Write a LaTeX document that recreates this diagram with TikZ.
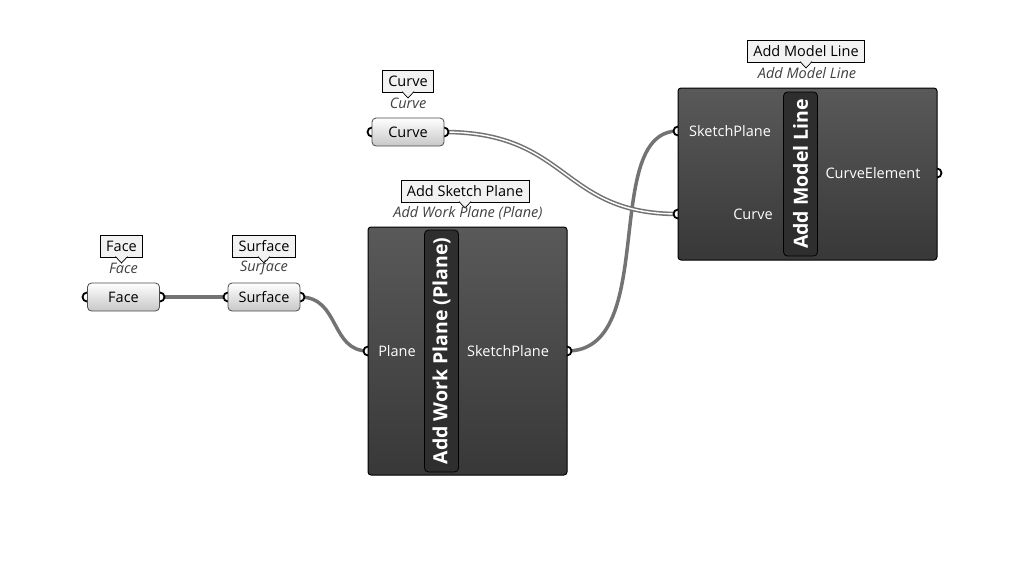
\documentclass[tikz,border=0pt]{standalone}
\usepackage{fontspec}
\setmainfont{Open Sans}
\begin{document}
\begin{tikzpicture}[x=1pt,y=-1pt,
 param/.style={draw=black!70,line width=0.8pt,rounded corners=4pt,top color=white,bottom color=black!22,minimum width=72pt,minimum height=28pt,font=\fontsize{14.5}{16}\selectfont,inner sep=0pt},
 comp/.style={draw=black,line width=1pt,rounded corners=3pt,top color=black!65,bottom color=black!78,inner sep=0pt},
 capsule/.style={draw=black,line width=0.8pt,rounded corners=4pt,fill=black!82,inner sep=0pt,minimum width=34pt,text=white,font=\bfseries\fontsize{19.5}{22}\selectfont},
 tag/.style={draw=black,line width=0.7pt,fill=white!95!black,font=\fontsize{14.5}{16}\selectfont,inner xsep=6pt,inner ysep=2pt,minimum height=22pt},
 ital/.style={font=\itshape\fontsize{14.5}{16}\selectfont,text=black!75},
 wlab/.style={text=white,font=\fontsize{14.5}{16}\selectfont},
 grip/.style={circle,draw=black,line width=1.8pt,fill=white,minimum size=9pt,inner sep=0pt},
 wire/.style={draw=black!55,line width=3.5pt},
]
\useasboundingbox (0,0) rectangle (1024,563);
% grips coordinates
\coordinate (faceo) at (160,297);
\coordinate (surfi) at (228,297);
\coordinate (surfo) at (300,297);
\coordinate (curveo) at (444,132);
\coordinate (planei) at (368,351);
\coordinate (skout) at (567,351);
\coordinate (skin) at (678,131);
\coordinate (cin) at (678,214);
\coordinate (ceout) at (937,173);
% wires
\draw[wire] (faceo) -- (surfi);
\draw[wire] (surfo) .. controls (340,297) and (330,351) .. (planei);
\draw[wire] (skout) .. controls (660,351) and (600,131) .. (skin);
\draw[draw=black!55,line width=4.5pt] (curveo) .. controls (570,132) and (560,214) .. (cin);
\draw[draw=white,line width=1.4pt] (curveo) .. controls (570,132) and (560,214) .. (cin);
\foreach \c in {faceo,surfi,surfo,curveo,planei,skout,skin,cin,ceout,{87,297},{372,132}}
  \node[grip] at (\c) {};
% params
\node[param] (face) at (123.5,297) {Face};
\node[param] (surf) at (264,297) {Surface};
\node[param] (curve) at (408,132) {Curve};
% components
\node[comp,minimum width=199pt,minimum height=248pt] (awp) at (467.5,351) {};
\node[capsule,minimum height=242pt] (awpc) at (441.5,351) {\rotatebox{90}{Add Work Plane (Plane)}};
\node[wlab] at (397,351) {Plane};
\node[wlab] at (508,351) {SketchPlane};
\node[comp,minimum width=259pt,minimum height=172pt] (aml) at (807.5,174) {};
\node[capsule,minimum height=164pt] (amlc) at (800.5,174) {\rotatebox{90}{Add Model Line}};
\node[wlab] at (730,131) {SketchPlane};
\node[wlab] at (753,214) {Curve};
\node[wlab] at (873,173) {CurveElement};
% tags
\foreach \n/\x/\y/\t in {tf/121.5/246/Face,ts/264/246/Surface,tc/408/81/Curve,ta/465/191/Add Sketch Plane,tm/806/51/Add Model Line}{
  \node[tag] (\n) at (\x,\y) {\t};
  \fill[white!95!black,draw=black,line width=0.7pt] (\x-6,\y+10.6) -- (\x,\y+17) -- (\x+6,\y+10.6);
  \fill[white!95!black] (\x-5,\y+10) rectangle (\x+5,\y+10.8);
}
\node[ital] at (123.5,268) {Face};
\node[ital] at (264,268) {Surface};
\node[ital] at (408,103) {Curve};
\node[ital] at (468,213) {Add Work Plane (Plane)};
\node[ital] at (807,73) {Add Model Line};
\end{tikzpicture}
\end{document}
